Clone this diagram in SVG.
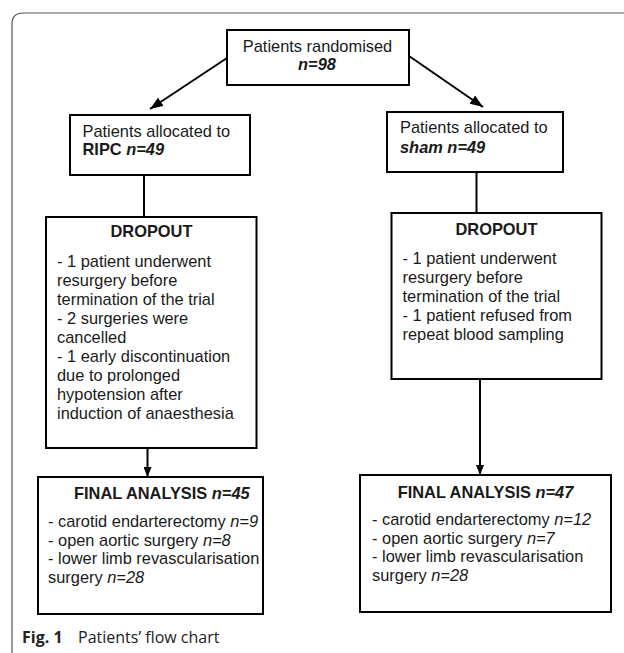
<svg xmlns="http://www.w3.org/2000/svg" width="624" height="653" viewBox="0 0 624 653">
<defs>
<style>
.box{fill:#fff;stroke:#000;stroke-width:2}
.t{font-family:"Liberation Sans",Arial,sans-serif;font-size:16.4px;fill:#1a1a1a}
.b{font-weight:bold}
.i{font-style:italic}
.c{text-anchor:middle}
.ln{fill:none;stroke:#000;stroke-width:2}
.cap{font-family:"Open Sans","Noto Sans",sans-serif;font-size:16px;fill:#222}
</style>
<marker id="ah" viewBox="0 0 13 10" refX="13" refY="5" markerWidth="6.5" markerHeight="5" markerUnits="strokeWidth" orient="auto">
<path d="M0,0 L13,5 L0,10 z" fill="#000"/>
</marker>
<marker id="ahs" viewBox="0 0 10 8" refX="10" refY="4" markerWidth="5" markerHeight="4" markerUnits="strokeWidth" orient="auto">
<path d="M0,0 L10,4 L0,8 z" fill="#000"/>
</marker>
</defs>
<rect width="624" height="653" fill="#fff"/>
<path d="M12,653 L12,24 Q12,13 23,13 L624,13" fill="none" stroke="#555" stroke-width="1.2"/>

<g id="connectors">
<line class="ln" x1="227" y1="58" x2="150" y2="109" marker-end="url(#ah)"/>
<line class="ln" x1="409" y1="56" x2="483" y2="107" marker-end="url(#ah)"/>
<line class="ln" x1="144" y1="175" x2="144" y2="217"/>
<line class="ln" x1="476.5" y1="172" x2="476.5" y2="213"/>
<line class="ln" x1="147.5" y1="448" x2="147.5" y2="477" marker-end="url(#ahs)"/>
<line class="ln" x1="480" y1="379" x2="480" y2="475" marker-end="url(#ahs)"/>
</g>

<g id="randomised">
<rect class="box" x="227" y="30" width="182" height="55"/>
<text class="t c" x="317.5" y="52">Patients randomised</text>
<text class="t c b i" x="317" y="70">n=98</text>
</g>

<g id="ripc">
<rect class="box" x="70" y="115" width="180" height="60"/>
<text class="t" x="82.5" y="137">Patients allocated to</text>
<text class="t b" x="82.5" y="155">RIPC <tspan class="i">n=49</tspan></text>
</g>

<g id="sham">
<rect class="box" x="387" y="112" width="176" height="60"/>
<text class="t" x="400" y="133">Patients allocated to</text>
<text class="t b i" x="400" y="153">sham n=49</text>
</g>

<g id="dropout-ripc">
<rect class="box" x="46" y="217" width="210.5" height="231"/>
<text class="t b c" x="151.5" y="237">DROPOUT</text>
<text class="t" x="57" y="266.7">- 1 patient underwent</text>
<text class="t" x="57" y="285.7">resurgery before</text>
<text class="t" x="57" y="304.7">termination of the trial</text>
<text class="t" x="57" y="323.7">- 2 surgeries were</text>
<text class="t" x="57" y="342.7">cancelled</text>
<text class="t" x="57" y="361.7">- 1 early discontinuation</text>
<text class="t" x="57" y="380.7">due to prolonged</text>
<text class="t" x="57" y="399.7">hypotension after</text>
<text class="t" x="57" y="418.7">induction of anaesthesia</text>
</g>

<g id="dropout-sham">
<rect class="box" x="391.5" y="213" width="210" height="166"/>
<text class="t b c" x="496.5" y="235">DROPOUT</text>
<text class="t" x="402.5" y="263.5">- 1 patient underwent</text>
<text class="t" x="402.5" y="282.5">resurgery before</text>
<text class="t" x="402.5" y="301.5">termination of the trial</text>
<text class="t" x="402.5" y="320.5">- 1 patient refused from</text>
<text class="t" x="402.5" y="339.5">repeat blood sampling</text>
</g>

<g id="final-ripc">
<rect class="box" x="38" y="477" width="225" height="137"/>
<text class="t b" x="74" y="499">FINAL ANALYSIS <tspan class="i">n=45</tspan></text>
<text class="t" x="48" y="527">- carotid endarterectomy <tspan class="i">n=9</tspan></text>
<text class="t" x="48" y="545.5">- open aortic surgery <tspan class="i">n=8</tspan></text>
<text class="t" x="48" y="564">- lower limb revascularisation</text>
<text class="t" x="48" y="582.5">surgery <tspan class="i">n=28</tspan></text>
</g>

<g id="final-sham">
<rect class="box" x="360" y="475" width="251" height="137"/>
<text class="t b c" x="485.5" y="497.5">FINAL ANALYSIS <tspan class="i">n=47</tspan></text>
<text class="t" x="372" y="525">- carotid endarterectomy <tspan class="i">n=12</tspan></text>
<text class="t" x="372" y="543.5">- open aortic surgery <tspan class="i">n=7</tspan></text>
<text class="t" x="372" y="562">- lower limb revascularisation</text>
<text class="t" x="372" y="580.5">surgery <tspan class="i">n=28</tspan></text>
</g>

<g id="caption">
<text class="cap" x="22" y="643"><tspan font-weight="bold">Fig. 1</tspan><tspan x="78">Patients’ flow chart</tspan></text>
</g>
</svg>
